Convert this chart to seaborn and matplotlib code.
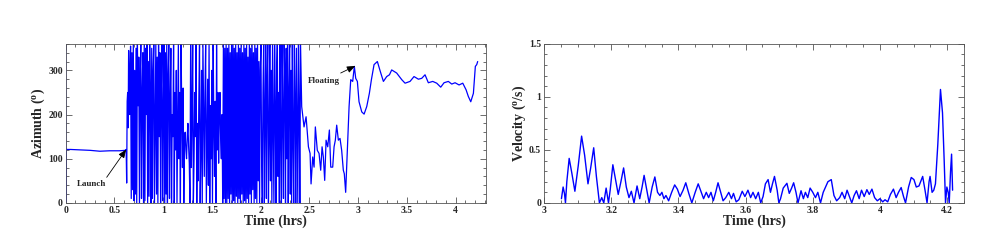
import matplotlib
matplotlib.use("Agg")
import matplotlib.pyplot as plt
from matplotlib.ticker import MultipleLocator
import numpy as np
import pandas as pd
import seaborn as sns

# Azimuth before launch: (time hrs, azimuth deg)
az_pre_t = [0.0, 0.002, 0.004, 0.05, 0.15, 0.25, 0.35, 0.45, 0.55, 0.61, 0.62,
            0.625, 0.63, 0.635, 0.64, 0.645, 0.65, 0.655, 0.66]
az_pre_v = [360, 2, 121, 121, 120, 119, 117, 118, 118, 119, 121,
            45, 230, 250, 170, 345, 260, 200, 300]

# Azimuth while spinning (wraps 0-360), sampled every 0.007 hrs from 0.665
az_spin_start = 0.665
az_spin_step = 0.007
az_spin_v = [
    355, 10, 340, 30, 360, 5, 300, 20, 350, 0,
    360, 220, 330, 0, 280, 360, 10, 250, 340, 0,
    360, 5, 350, 200, 360, 0, 320, 15, 360, 240,
    0, 350, 10, 300, 360, 0, 180, 360, 20, 330,
    0, 360, 150, 340, 0, 250, 360, 5, 200, 360,
    0, 340, 20, 360, 0, 290, 360, 10, 230, 350,
    0, 200, 150, 360, 0, 250, 120, 300, 0, 180,
    360, 100, 250, 0, 360, 200, 80, 260, 0, 150,
    160, 120, 100, 150, 180, 130, 90, 0, 360, 80,
    200, 360, 0, 100, 250, 150, 360, 0, 180, 50,
    230, 360, 0, 120, 300, 0, 360, 200, 60, 250,
    360, 0, 150, 280, 40, 360, 0, 220, 100, 300,
    0, 360, 180, 60, 230, 0, 360, 120, 250, 90,
    200, 250, 140, 100, 200, 0, 360, 10, 350, 0,
    360, 0, 350, 10, 360, 0, 340, 20, 360, 0,
    360, 5, 350, 0, 360, 15, 340, 0, 360, 10,
    350, 0, 360, 20, 340, 0, 360, 5, 350, 0,
    360, 10, 330, 0, 360, 20, 350, 0, 360, 30,
    340, 0, 360, 10, 350, 0, 360, 50, 320, 0,
    300, 360, 100, 0, 250, 360, 0, 200, 360, 10,
    280, 360, 0, 150, 360, 50, 300, 0, 360, 180,
    0, 360, 220, 0, 300, 360, 60, 250, 0, 360,
    150, 0, 360, 200, 10, 360, 280, 0, 350, 100,
    360, 0, 250, 360, 20, 300, 0, 360, 150, 0,
    360, 230, 0, 350, 180, 0, 360, 210, 0, 360,
]

# Azimuth after spinning stops
az_post_t = [2.42, 2.444, 2.465, 2.489, 2.506, 2.516, 2.533, 2.547, 2.56, 2.58,
             2.598, 2.615, 2.629, 2.642, 2.656, 2.67, 2.687, 2.704, 2.718, 2.738,
             2.752, 2.765, 2.779, 2.796, 2.813, 2.83, 2.847, 2.857, 2.871, 2.888,
             2.906, 2.923, 2.943, 2.96, 2.974, 2.991, 3.008, 3.036, 3.06, 3.087,
             3.114, 3.135, 3.162, 3.196, 3.231, 3.258, 3.292, 3.32, 3.343, 3.394,
             3.446, 3.48, 3.531, 3.572, 3.617, 3.651, 3.685, 3.719, 3.764, 3.805,
             3.846, 3.88, 3.924, 3.959, 3.993, 4.034, 4.072, 4.106, 4.129, 4.154,
             4.181, 4.201, 4.215, 4.225]
az_post_v = [218, 172, 195, 127, 112, 43, 104, 81, 172, 119,
             112, 74, 127, 104, 51, 142, 127, 165, 81, 81,
             127, 142, 176, 142, 146, 119, 74, 66, 24, 119,
             218, 279, 275, 309, 282, 275, 229, 206, 201, 218,
             248, 279, 313, 320, 294, 275, 286, 290, 301, 294,
             279, 271, 275, 286, 280, 282, 290, 272, 275, 271,
             262, 272, 275, 269, 272, 267, 271, 256, 241, 229,
             248, 309, 313, 320]

# Angular velocity after floating: (time hrs, deg/s)
vel_t = [3.052, 3.057, 3.061, 3.064, 3.068, 3.075, 3.083, 3.092, 3.102, 3.112,
         3.121, 3.131, 3.139, 3.148, 3.156, 3.165, 3.172, 3.178, 3.185, 3.192,
         3.197, 3.205, 3.213, 3.221, 3.229, 3.237, 3.245, 3.253, 3.260, 3.268,
         3.277, 3.285, 3.292, 3.298, 3.306, 3.313, 3.322, 3.330, 3.338, 3.345,
         3.351, 3.357, 3.363, 3.371, 3.380, 3.389, 3.397, 3.405, 3.414, 3.422,
         3.431, 3.440, 3.450, 3.459, 3.467, 3.475, 3.483, 3.490, 3.497, 3.504,
         3.511, 3.518, 3.526, 3.533, 3.541, 3.550, 3.558, 3.564, 3.572, 3.580,
         3.590, 3.598, 3.607, 3.615, 3.622, 3.630, 3.638, 3.645, 3.652, 3.659,
         3.667, 3.674, 3.680, 3.686, 3.694, 3.699, 3.704, 3.712, 3.723, 3.730,
         3.737, 3.743, 3.750, 3.756, 3.765, 3.772, 3.778, 3.785, 3.792, 3.800,
         3.808, 3.815, 3.823, 3.831, 3.838, 3.845, 3.855, 3.863, 3.871, 3.880,
         3.887, 3.895, 3.902, 3.909, 3.916, 3.923, 3.930, 3.938, 3.945, 3.953,
         3.961, 3.968, 3.976, 3.984, 3.992, 4.000, 4.008, 4.015, 4.023, 4.031,
         4.040, 4.048, 4.055, 4.063, 4.070, 4.076, 4.085, 4.093, 4.101, 4.108,
         4.116, 4.127, 4.134, 4.140, 4.146, 4.149, 4.155, 4.160, 4.165, 4.172,
         4.180, 4.186, 4.191, 4.195, 4.199, 4.203, 4.206, 4.210, 4.213, 4.216]
vel_v = [0.04, 0.15, 0.09, 0.0, 0.20, 0.42, 0.28, 0.11, 0.35, 0.63,
         0.45, 0.18, 0.33, 0.52, 0.25, 0.0, 0.05, 0.0, 0.14, 0.0,
         0.12, 0.36, 0.22, 0.08, 0.20, 0.33, 0.15, 0.05, 0.11, 0.0,
         0.16, 0.04, 0.15, 0.26, 0.12, 0.0, 0.15, 0.245, 0.10, 0.07,
         0.10, 0.04, 0.07, 0.02, 0.10, 0.17, 0.13, 0.06, 0.12, 0.19,
         0.09, 0.0, 0.10, 0.18, 0.11, 0.04, 0.10, 0.05, 0.10, 0.02,
         0.10, 0.19, 0.10, 0.02, 0.05, 0.10, 0.04, 0.09, 0.01, 0.03,
         0.11, 0.06, 0.12, 0.05, 0.10, 0.04, 0.10, 0.0, 0.06, 0.18,
         0.22, 0.10, 0.18, 0.25, 0.12, 0.0, 0.04, 0.14, 0.185, 0.09,
         0.14, 0.19, 0.10, 0.0, 0.115, 0.04, 0.10, 0.05, 0.14, 0.10,
         0.05, 0.10, 0.0, 0.10, 0.15, 0.20, 0.22, 0.07, 0.02, 0.05,
         0.10, 0.04, 0.12, 0.06, 0.0, 0.07, 0.115, 0.04, 0.12, 0.06,
         0.125, 0.08, 0.13, 0.05, 0.02, 0.04, 0.01, 0.03, 0.01, 0.08,
         0.13, 0.05, 0.10, 0.145, 0.06, 0.0, 0.15, 0.24, 0.22, 0.15,
         0.16, 0.25, 0.12, 0.0, 0.20, 0.25, 0.10, 0.12, 0.18, 0.55,
         1.07, 0.85, 0.40, 0.0, 0.15, 0.10, 0.0, 0.30, 0.46, 0.12]

az_spin_t = [az_spin_start + az_spin_step * i for i in range(len(az_spin_v))]
azimuth = pd.DataFrame({
    "time": az_pre_t + az_spin_t + az_post_t,
    "azimuth": az_pre_v + az_spin_v + az_post_v,
})
velocity = pd.DataFrame({"time": vel_t, "velocity": vel_v})

sns.set_style("ticks")
plt.rcParams["font.family"] = ["Liberation Serif", "DejaVu Serif"]
plt.rcParams["mathtext.fontset"] = "custom"
plt.rcParams["mathtext.rm"] = "Liberation Serif:bold"
plt.rcParams["mathtext.it"] = "Liberation Serif:bold"

fig = plt.figure(figsize=(9.93, 2.41), dpi=100)
ax1 = fig.add_axes([0.0662, 0.158, 0.4232, 0.660])
ax2 = fig.add_axes([0.5478, 0.158, 0.4230, 0.660])

sns.lineplot(data=azimuth, x="time", y="azimuth", ax=ax1, color="#0000ff",
             linewidth=0.9, estimator=None, sort=False)
sns.lineplot(data=velocity, x="time", y="velocity", ax=ax2, color="#0000ff",
             linewidth=1.0, estimator=None, sort=False)
for ax in (ax1, ax2):
    for ln in ax.get_lines():
        ln.set_solid_joinstyle("round")


def style_axis(ax, xlim, ylim, xmaj, xmin, ymaj, ymin):
    ax.set_xlim(*xlim)
    ax.set_ylim(*ylim)
    ax.xaxis.set_major_locator(MultipleLocator(xmaj))
    ax.xaxis.set_minor_locator(MultipleLocator(xmin))
    ax.yaxis.set_major_locator(MultipleLocator(ymaj))
    ax.yaxis.set_minor_locator(MultipleLocator(ymin))
    ax.xaxis.set_major_formatter(lambda v, p: f"{v:g}")
    ax.yaxis.set_major_formatter(lambda v, p: f"{v:g}")
    ax.tick_params(which="both", direction="in", top=True, right=True,
                   width=0.6, color="#555555", pad=2, labelsize=7)
    ax.tick_params(which="major", length=4.5)
    ax.tick_params(which="minor", length=2.5)
    for lbl in ax.get_xticklabels() + ax.get_yticklabels():
        lbl.set_fontweight("bold")
    for sp in ax.spines.values():
        sp.set_visible(True)
        sp.set_linewidth(0.6)
        sp.set_color("#555555")


style_axis(ax1, (0, 4.31), (0, 360), 0.5, 0.1, 100, 20)
style_axis(ax2, (3, 4.25), (0, 1.5), 0.2, 0.05, 0.5, 0.1)

ax1.set_xlabel("Time (hrs)", fontsize=10, fontweight="bold", labelpad=0)
ax1.set_ylabel(r"Azimuth ($\mathregular{^o}$)", fontsize=10, fontweight="bold", labelpad=1)
ax2.set_xlabel("Time (hrs)", fontsize=10, fontweight="bold", labelpad=0)
ax2.set_ylabel(r"Velocity ($\mathregular{^o}$/s)", fontsize=10, fontweight="bold", labelpad=1)

arrow = dict(arrowstyle="-|>,head_length=0.5,head_width=0.2", color="black",
             lw=0.6, mutation_scale=10, shrinkA=0, shrinkB=0)
ax1.annotate("", xy=(0.62, 121), xytext=(0.42, 58), arrowprops=arrow)
ax1.text(0.27, 42, "Launch", fontsize=6.5, fontweight="semibold", ha="center", va="center")
ax1.annotate("", xy=(2.97, 310), xytext=(2.82, 294), arrowprops=arrow)
ax1.text(2.65, 275, "Floating", fontsize=6.5, fontweight="semibold", ha="center", va="center")

fig.savefig("out.png", dpi=100)
